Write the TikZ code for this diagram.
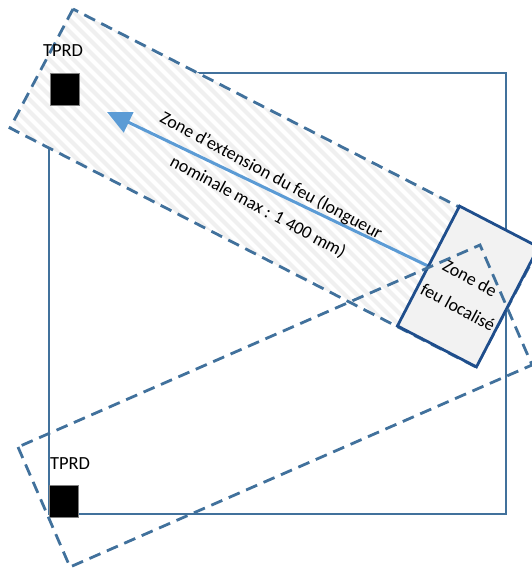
\documentclass[tikz,border=0pt]{standalone}
\usepackage{fontspec}
\setmainfont{Carlito}
\usetikzlibrary{arrows.meta}
\definecolor{edgeblue}{HTML}{41719C}
\definecolor{firebrd}{HTML}{1F4E8C}
\definecolor{arrowblue}{HTML}{5B9BD5}
\definecolor{firefill}{HTML}{F2F2F2}
\definecolor{hatchgray}{HTML}{F0F0F0}
\begin{document}
\begin{tikzpicture}[x=1pt,y=-1pt,
  every node/.style={font=\fontsize{18.5}{22}\selectfont, inner sep=0pt},
  zone/.style={draw=edgeblue, line width=2.8pt, dash pattern=on 12pt off 7pt},
  tprd/.style={fill=black, draw=gray, line width=0.6pt, minimum width=29pt, minimum height=32pt},
  firebox/.style={draw=firebrd, fill=firefill, line width=2.8pt, minimum width=89pt, minimum height=135pt},
  tilted/.style={rotate=-28.3, font=\fontsize{18}{22}\selectfont}]
\useasboundingbox (0,0) rectangle (531,570);

% tank outline
\coordinate (s1) at (49,73);
\coordinate (s2) at (506,514);
\draw[edgeblue, line width=2.8pt] (s1) rectangle (s2);

% fire extension zone (hatched)
\coordinate (uA) at (73,9);
\coordinate (uB) at (10,128);
\coordinate (uC) at (476,367);
\coordinate (uD) at (539,248);
\fill[white] (uA) -- (uB) -- (uC) -- (uD) -- cycle;
\begin{scope}
  \clip (uA) -- (uB) -- (uC) -- (uD) -- cycle;
  \foreach \i in {-450,-438,...,560}
    \draw[hatchgray, line width=4pt] (\i,-20) -- ++(420,420);
\end{scope}
\draw[zone] (uA) -- (uB) -- (uC) -- (uD) -- cycle;

% pressure relief devices
\node[tprd] (t1) at (64.5,89) {};
\node[tprd] (t2) at (63.5,501.5) {};
\node (l1) at (63,51) {TPRD};
\node (l2) at (70,464) {TPRD};

% extension arrow and its label
\coordinate (aS) at (428,266);
\coordinate (aT) at (107,112);
\draw[arrowblue, line width=3pt, -{Triangle[length=24pt,width=22pt]}] (aS) -- (aT);
\node[tilted] (x1) at (271,176) {Zone d’extension du feu (longueur};
\node[tilted] (x2) at (258,207) {nominale max : 1 400 mm)};

% localised fire zone
\node[firebox, rotate=-27.4] (fire) at (468,286.5) {};
\node[tilted] (f1) at (470,278) {Zone de};
\node[tilted] (f2) at (458,307) {feu localisé};

% second orientation of the fire zone
\coordinate (wL) at (18,447);
\coordinate (wB) at (70,567);
\coordinate (wR) at (532,365);
\coordinate (wT) at (480,245);
\draw[zone] (wL) -- (wB) -- (wR) -- (wT) -- cycle;
\end{tikzpicture}
\end{document}
